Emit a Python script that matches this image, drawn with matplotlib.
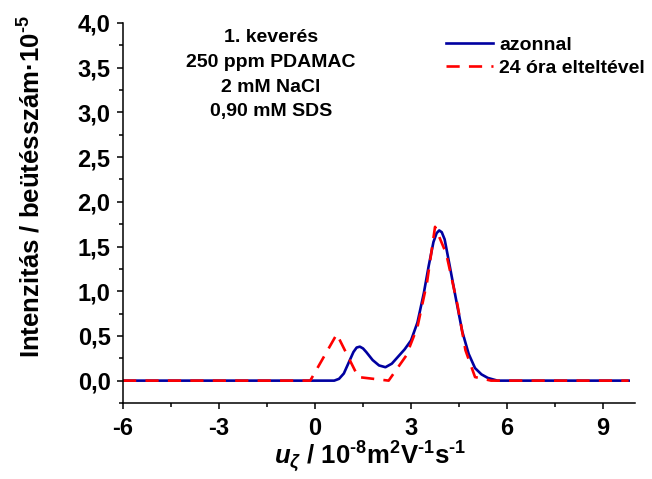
import numpy as np
import matplotlib
matplotlib.use("Agg")
import matplotlib.pyplot as plt
from matplotlib.ticker import MultipleLocator, FuncFormatter

# betűtípus (Arial helyett Liberation Sans)
plt.rcParams["font.family"] = ["Liberation Sans", "DejaVu Sans"]
plt.rcParams["font.weight"] = "bold"
plt.rcParams["mathtext.fontset"] = "custom"
plt.rcParams["mathtext.rm"] = "Liberation Sans:bold"
plt.rcParams["mathtext.bf"] = "Liberation Sans:bold"
plt.rcParams["mathtext.it"] = "Liberation Sans:bold:italic"
plt.rcParams["mathtext.default"] = "bf"

# azonnal mért görbe
u_azonnal = [-6.0, 0.6, 0.75, 0.9, 1.05, 1.2, 1.3, 1.4, 1.5, 1.6, 1.8, 2.0,
             2.2, 2.4, 2.6, 2.8, 3.0, 3.2, 3.4, 3.55, 3.7, 3.8, 3.88, 3.96,
             4.05, 4.2, 4.4, 4.6, 4.8, 5.0, 5.2, 5.4, 5.7, 9.8]
i_azonnal = [0.0, 0.0, 0.02, 0.08, 0.2, 0.32, 0.37, 0.38, 0.36, 0.32, 0.23,
             0.17, 0.15, 0.19, 0.27, 0.35, 0.45, 0.65, 0.98, 1.28, 1.55,
             1.65, 1.68, 1.66, 1.58, 1.3, 0.92, 0.55, 0.3, 0.14, 0.07, 0.03,
             0.0, 0.0]

# 24 óra elteltével mért görbe
u_24h = [-6.0, -0.15, 0.68, 1.35, 2.3, 2.85, 3.2, 3.5, 3.75, 4.1, 4.45, 4.7,
         5.0, 5.5, 9.8]
i_24h = [0.0, 0.0, 0.52, 0.04, 0.0, 0.28, 0.6, 1.1, 1.72, 1.42, 0.85, 0.34,
         0.04, 0.0, 0.0]

fig = plt.figure(figsize=(6.52, 4.79), dpi=100)
ax = fig.add_axes([0.1887, 0.1587, 0.7853, 0.7933])

ax.plot(u_azonnal, i_azonnal, color="#0000A0", lw=1.9, label="azonnal")
ax.plot(u_24h, i_24h, color="red", lw=1.9, dashes=(5, 3.5),
        label="24 óra elteltével")

ax.set_xlim(-6, 10)
ax.set_ylim(-0.25, 4.0)
ax.spines["top"].set_visible(False)
ax.spines["right"].set_visible(False)
for s in ["left", "bottom"]:
    ax.spines[s].set_linewidth(1.1)

ax.xaxis.set_major_locator(MultipleLocator(3))
ax.xaxis.set_minor_locator(MultipleLocator(1.5))
ax.yaxis.set_major_locator(MultipleLocator(0.5))
ax.yaxis.set_minor_locator(MultipleLocator(0.25))
ax.yaxis.set_major_formatter(FuncFormatter(lambda v, p: f"{v:.1f}".replace(".", ",")))
ax.xaxis.set_major_formatter(FuncFormatter(lambda v, p: f"{v:.0f}"))
ax.tick_params(which="major", direction="out", length=4, width=1.1,
               labelsize=17)
ax.tick_params(axis="x", which="major", pad=6)
ax.tick_params(axis="y", which="major", pad=5)
ax.tick_params(which="minor", direction="out", length=3, width=1.1)

ax.set_ylabel(r"Intenzitás / beütésszám·10$^{\text{-}5}$", fontsize=18.5,
              fontweight="bold")
ax.set_xlabel(r"$\mathit{u}_{\mathit{\zeta}}$ / 10$^{\text{-}8}$m$^{2}$V$^{\text{-}1}$s$^{\text{-}1}$",
              fontsize=18.5, fontweight="bold")
ax.yaxis.set_label_coords(-0.152, 0.57)
ax.xaxis.set_label_coords(0.482, -0.097)

ax.text(0.289, 0.984, "1. keverés\n250 ppm PDAMAC\n2 mM NaCl\n0,90 mM SDS",
        transform=ax.transAxes, ha="center", va="top",
        fontsize=14, fontweight="bold", linespacing=1.6)

ax.legend(loc="upper right", bbox_to_anchor=(1.054, 1.012), frameon=False,
          handlelength=2.4, handletextpad=0.35, labelspacing=0.3,
          prop={"weight": "bold", "size": 14})

fig.savefig("out.png", dpi=100)
